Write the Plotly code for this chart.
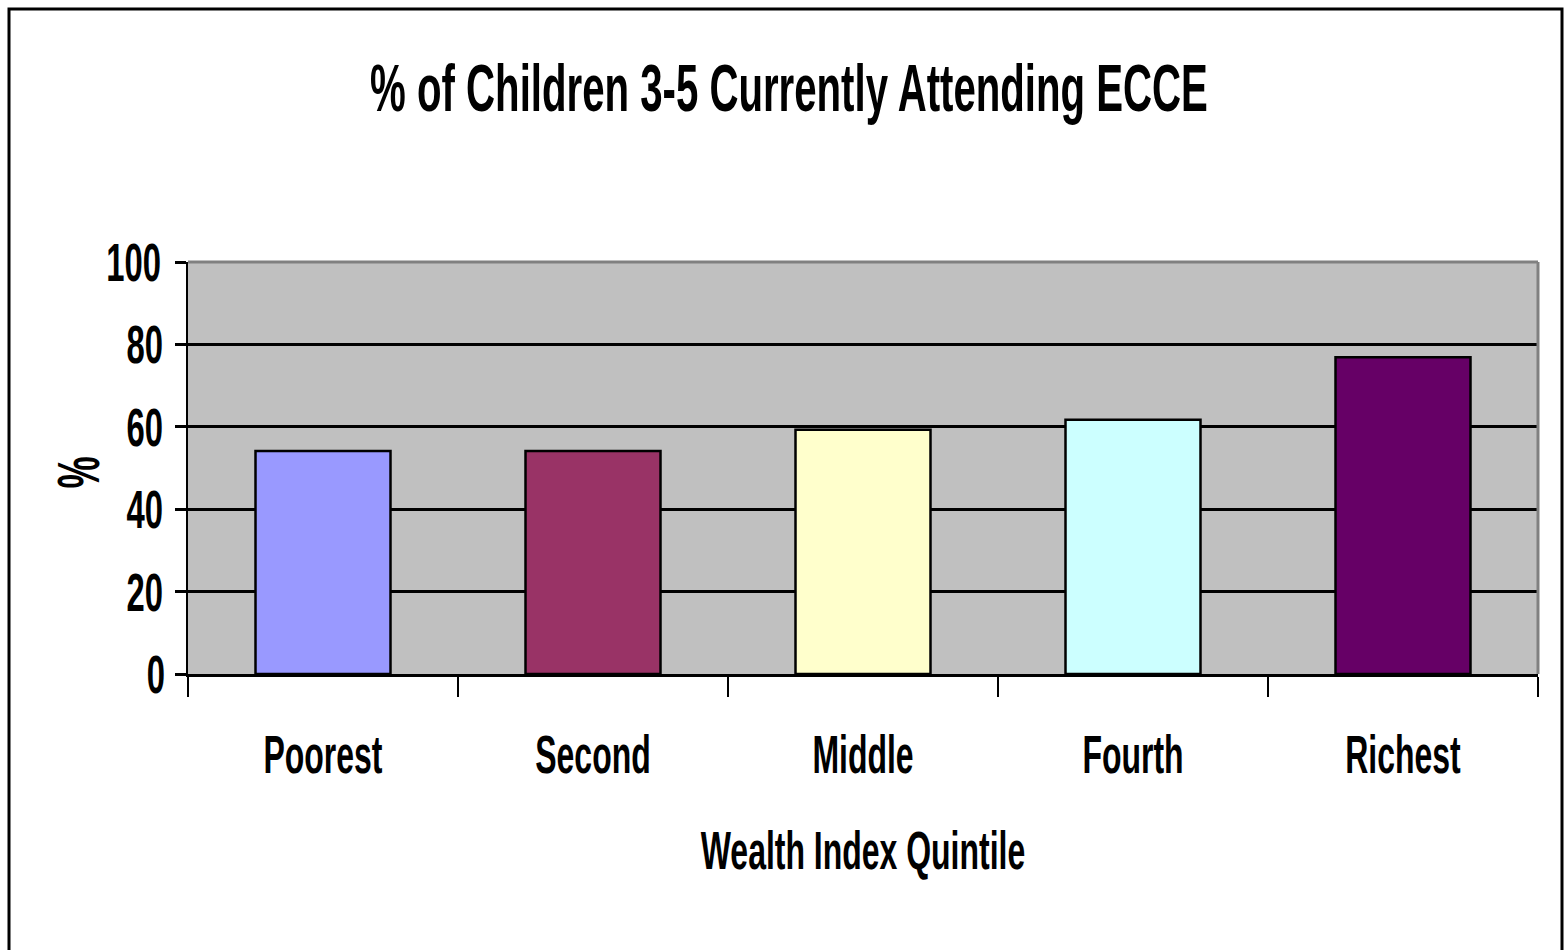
import plotly.graph_objects as go

# Wealth index quintiles and the share of children aged 3-5 attending ECCE
quintiles = ["Poorest", "Second", "Middle", "Fourth", "Richest"]
attending_pct = [54.1, 54.1, 59.3, 61.7, 76.9]
bar_colors = ["#9999FF", "#993366", "#FFFFCC", "#CCFFFF", "#660066"]
y_ticks = [0, 20, 40, 60, 80, 100]

W, H = 1564, 950
L, R, T, B = 188, 26, 262, 276
FONT = "Liberation Sans, Arial, sans-serif"

fig = go.Figure(
    go.Bar(
        x=quintiles,
        y=attending_pct,
        marker=dict(color=bar_colors, line=dict(color="black", width=2.5)),
        width=0.5,
    )
)

pw, ph = W - L - R, H - T - B


def px_x(v):
    return (v - L) / pw


def px_y(v):
    return 1 - (v - T) / ph


fig.update_layout(
    width=W,
    height=H,
    margin=dict(l=L, r=R, t=T, b=B),
    paper_bgcolor="white",
    plot_bgcolor="#C0C0C0",
    showlegend=False,
    font=dict(family=FONT, color="black"),
    title=dict(
        text="% of Children 3-5 Currently Attending ECCE",
        font=dict(size=49, family=FONT, color="black", weight="bold"),
        x=789 / W,
        xref="container",
        xanchor="center",
        y=1 - 88 / H,
        yanchor="middle",
    ),
    xaxis=dict(
        type="category",
        tickson="boundaries",
        ticks="outside",
        ticklen=20,
        tickwidth=2,
        tickcolor="black",
        showline=True,
        linecolor="black",
        linewidth=3,
        showgrid=False,
        ticklabelstandoff=44,
        tickfont=dict(size=39, family=FONT, color="black", weight="bold"),
        title=dict(
            text="Wealth Index Quintile",
            font=dict(size=39, family=FONT, color="black", weight="bold"),
            standoff=63,
        ),
    ),
    yaxis=dict(
        range=[0, 100],
        tickvals=y_ticks,
        ticks="outside",
        ticklen=11,
        tickwidth=3,
        tickcolor="black",
        showline=True,
        linecolor="black",
        linewidth=2,
        showgrid=True,
        gridcolor="black",
        gridwidth=3,
        zeroline=False,
        tickfont=dict(size=40, family=FONT, color="black", weight="bold"),
    ),
    annotations=[
        dict(
            text="%",
            xref="paper",
            yref="paper",
            x=px_x(77),
            y=px_y(473),
            xanchor="center",
            yanchor="middle",
            textangle=-90,
            showarrow=False,
            font=dict(size=44, family=FONT, color="black", weight="bold"),
        )
    ],
    shapes=[
        # gray frame on the top and right of the plotting area
        dict(type="line", xref="paper", yref="paper", x0=0, x1=1, y0=1, y1=1,
             line=dict(color="#808080", width=3), layer="above"),
        dict(type="line", xref="paper", yref="paper", x0=1, x1=1, y0=0, y1=1,
             line=dict(color="#808080", width=3), layer="above"),
        # outer chart border
        dict(type="rect", xref="paper", yref="paper",
             x0=px_x(9), x1=px_x(1562), y0=px_y(9), y1=px_y(960),
             line=dict(color="black", width=3), layer="above"),
    ],
)

# Condensed, tall lettering: squeeze each label horizontally and stretch it
# vertically around its own centre.
condense_text = """
var gd = document.getElementById('{plot_id}');
var sel = 'text.gtitle, text.xtitle, g.xtick text, g.ytick text, text.annotation-text';
gd.querySelectorAll(sel).forEach(function (t) {
  var b = t.getBBox();
  var cx = b.x + b.width / 2, cy = b.y + b.height / 2;
  var tr = t.getAttribute('transform') || '';
  t.setAttribute('transform', tr + ' translate(' + cx + ',' + cy + ') scale(0.82,1.36) translate(' + (-cx) + ',' + (-cy) + ')');
});
"""

fig.write_html("out.html", post_script=condense_text)
